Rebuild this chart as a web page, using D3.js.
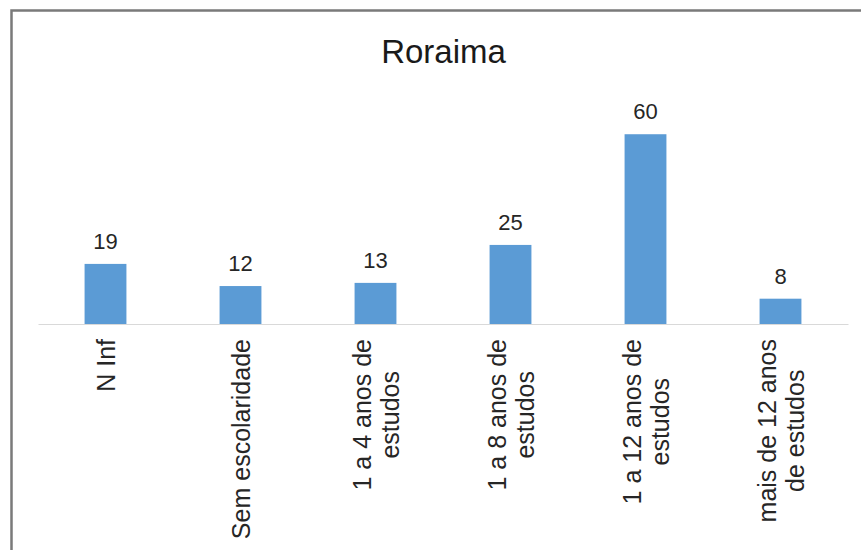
<!DOCTYPE html>
<html>
<head>
<meta charset="utf-8">
<script src="https://cdn.jsdelivr.net/npm/d3@7"></script>
<style>
  html, body { margin: 0; padding: 0; background: #fff; }
  svg { display: block; }
  text { font-family: "Liberation Sans", Arial, sans-serif; }
</style>
</head>
<body>
<script>
const title = "Roraima";
const categories = [
  ["N Inf"],
  ["Sem escolaridade"],
  ["1 a 4 anos de", "estudos"],
  ["1 a 8 anos de", "estudos"],
  ["1 a 12 anos de", "estudos"],
  ["mais de 12 anos", "de estudos"]
];
const values = [19, 12, 13, 25, 60, 8];
const yMax = 70;

const W = 861, H = 550;
const svg = d3.select("body").append("svg").attr("width", W).attr("height", H);

// outer border (cropped chart frame)
svg.append("rect")
  .attr("x", 11.5).attr("y", 10.5)
  .attr("width", W + 20).attr("height", H + 20)
  .attr("fill", "none").attr("stroke", "#7a7a7a").attr("stroke-width", 2.5);

svg.append("text")
  .attr("x", 443.5).attr("y", 63)
  .attr("text-anchor", "middle")
  .attr("font-size", 33)
  .attr("fill", "#1a1a1a")
  .text(title);

const keys = categories.map((c, i) => i);
const x = d3.scaleBand().domain(keys).range([38, 848]).paddingInner(0.69).paddingOuter(0.345);
const y = d3.scaleLinear().domain([0, yMax]).range([324, 102.6]);

// bars
svg.append("g").selectAll("rect").data(values).join("rect")
  .attr("x", (d, i) => x(i))
  .attr("y", d => y(d))
  .attr("width", x.bandwidth())
  .attr("height", d => y(0) - y(d))
  .attr("fill", "#5B9BD5");

// baseline axis
const xAxis = d3.axisBottom(x).tickSize(0).tickFormat("");
const ax = svg.append("g").attr("transform", `translate(0,${y(0)})`).call(xAxis);
ax.select(".domain").attr("stroke", "#d9d9d9").attr("stroke-width", 1.2);

// data labels
svg.append("g").selectAll("text").data(values).join("text")
  .attr("x", (d, i) => x(i) + x.bandwidth() / 2)
  .attr("y", d => y(d) - 15)
  .attr("text-anchor", "middle")
  .attr("font-size", 22)
  .attr("fill", "#262626")
  .text(d => d);

// category labels rotated
const labelTop = 339;
const lineGap = 28;
const fs = 25;
categories.forEach((lines, i) => {
  const cx = x(i) + x.bandwidth() / 2;
  const g = svg.append("g");
  const t = g.append("text")
    .attr("font-size", fs)
    .attr("fill", "#262626")
    .attr("text-anchor", "middle");
  const n = lines.length;
  lines.forEach((ln, j) => {
    t.append("tspan").attr("x", 0).attr("y", (j - (n - 1) / 2) * lineGap + fs * 0.36).text(ln);
  });
  let maxLen = 0;
  t.selectAll("tspan").each(function () { maxLen = Math.max(maxLen, this.getComputedTextLength()); });
  g.attr("transform", `translate(${cx},${labelTop + maxLen / 2}) rotate(-90)`);
});
</script>
</body>
</html>
